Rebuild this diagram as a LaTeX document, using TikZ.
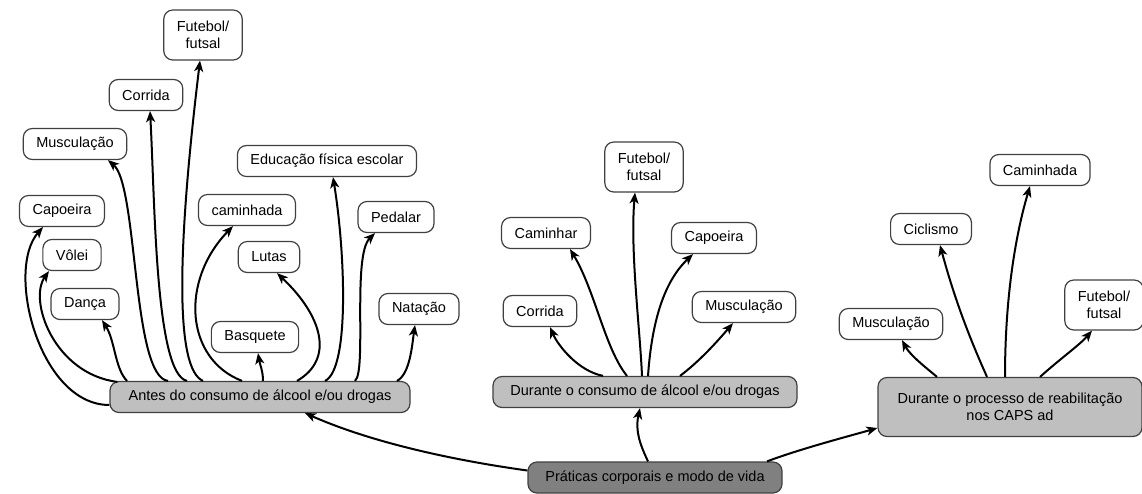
\documentclass[tikz,border=0pt]{standalone}
\usepackage{fontspec}
\setmainfont{Liberation Sans}
\usetikzlibrary{arrows.meta}

\begin{document}
\begin{tikzpicture}[
  x=1pt, y=-1pt,
  caixa/.style={rectangle, rounded corners=9pt, draw=black!75, line width=1.2pt, fill=white, align=center, minimum height=31pt, inner xsep=13pt, inner ysep=2pt, font=\fontsize{14.5pt}{17pt}\selectfont},
  eixo/.style={caixa, fill=gray!50},
  raiz/.style={caixa, fill=gray},
  seta/.style={-{Stealth[length=11pt, width=9pt, inset=3pt]}, line width=2pt}
]
\useasboundingbox (0,0) rectangle (1142,493);

% antes do consumo
\node[eixo, minimum width=300pt] (antes) at (260,397) {Antes do consumo de álcool e/ou drogas};
\node[caixa, minimum height=50pt] (fut1) at (203,35) {Futebol/\\futsal};
\node[caixa] (cor1) at (146,95) {Corrida};
\node[caixa] (mus1) at (75,144) {Musculação};
\node[caixa] (cap1) at (62,211) {Capoeira};
\node[caixa] (vol1) at (72,255) {Vôlei};
\node[caixa] (dan1) at (85,304) {Dança};
\node[caixa] (cam1) at (247,210) {caminhada};
\node[caixa] (lut1) at (269,257) {Lutas};
\node[caixa] (bas1) at (255,337) {Basquete};
\node[caixa] (edu1) at (327,161) {Educação física escolar};
\node[caixa] (ped1) at (396,217) {Pedalar};
\node[caixa] (nat1) at (419,309) {Natação};

% durante o consumo
\node[eixo, minimum width=304pt] (durc) at (645,392) {Durante o consumo de álcool e/ou drogas};
\node[caixa, minimum height=50pt] (fut2) at (644,167) {Futebol/\\futsal};
\node[caixa] (cmr2) at (546,233) {Caminhar};
\node[caixa] (cap2) at (714,238) {Capoeira};
\node[caixa] (cor2) at (540,311) {Corrida};
\node[caixa] (mus2) at (744,307) {Musculação};

% durante a reabilitacao
\node[eixo, minimum width=264pt, minimum height=59pt] (durp) at (1010,407) {Durante o processo de reabilitação\\nos CAPS ad};
\node[caixa] (cmd3) at (1040,170) {Caminhada};
\node[caixa] (cic3) at (931,229) {Ciclismo};
\node[caixa] (mus3) at (891,324) {Musculação};
\node[caixa, minimum height=50pt] (fut3) at (1104,305) {Futebol/\\futsal};

\node[raiz, minimum width=254pt] (prat) at (655,477.5) {Práticas corporais e modo de vida};

% setas da raiz
\draw[seta] ([yshift=7pt]prat.west) .. controls +(-58,-8) and +(75,33) .. ([xshift=45pt]antes.south);
\draw[seta] ([xshift=-7pt]prat.north) .. controls +(-8,-17) and +(-5,22.5) .. ([xshift=-5pt]durc.south);
\draw[seta] ([xshift=112pt]prat.north) .. controls +(33,-12.5) and +(-28,8) .. ([yshift=-21pt]durp.west);

% setas antes
\draw[seta] ([yshift=-8pt]antes.west) .. controls +(-70,0) and +(-38,43) .. ([xshift=-19pt]cap1.south);
\draw[seta] ([xshift=8pt,yshift=-1pt]antes.north west) .. controls +(-63,-8) and +(-21,29.5) .. ([xshift=-23pt]vol1.south);
\draw[seta] ([xshift=-133pt]antes.north) .. controls +(-12,-12) and +(13,20.5) .. ([xshift=17pt]dan1.south);
\draw[seta] ([xshift=-92pt]antes.north) .. controls +(-36,-4) and +(30,25.5) .. ([xshift=33pt]mus1.south);
\draw[seta] ([xshift=-73pt]antes.north) .. controls +(-32,-7) and +(5,89.5) .. ([xshift=4pt]cor1.south);
\draw[seta] ([xshift=-57pt]antes.north) .. controls +(-28,-12) and +(-23,190) .. ([xshift=-3pt]fut1.south);
\draw[seta] ([xshift=-18pt]antes.north) .. controls +(-57,-22) and +(-53,54.5) .. ([xshift=-14pt]cam1.south);
\draw[seta] ([xshift=3pt]antes.north) .. controls +(0,-10) and +(2,12) .. ([xshift=3pt]bas1.south);
\draw[seta] ([xshift=37pt]antes.north) .. controls +(38,-22) and +(45,42.5) .. ([xshift=8pt]lut1.south);
\draw[seta] ([xshift=65pt]antes.north) .. controls +(25,-12) and +(12,73.5) .. ([xshift=6pt]edu1.south);
\draw[seta] ([xshift=95pt]antes.north) .. controls +(12,-10) and +(-23,22.5) .. ([xshift=-21pt]ped1.south);
\draw[seta] ([xshift=137pt]antes.north) .. controls +(13,-7) and +(-3,20.5) .. ([xshift=-4pt]nat1.south);

% setas durante o consumo
\draw[seta] ([xshift=-42pt]durc.north) .. controls +(-25,-5) and +(8,18.5) .. ([xshift=10pt]cor2.south);
\draw[seta] ([xshift=-18pt]durc.north) .. controls +(-22,-27) and +(25,41.5) .. ([xshift=24pt]cmr2.south);
\draw[seta] ([xshift=-3pt]durc.north) .. controls +(-2,-47) and +(-5,58) .. ([xshift=-9pt]fut2.south);
\draw[seta] ([xshift=3pt]durc.north) .. controls +(4,-57) and +(-28,26.5) .. ([xshift=-21pt]cap2.south);
\draw[seta] ([xshift=35pt]durc.north) .. controls +(20,-15) and +(-15,17.5) .. ([xshift=-11pt]mus2.south);

% setas reabilitacao
\draw[seta] ([xshift=-73pt]durp.north) .. controls +(-12,-10) and +(8,15) .. ([xshift=11pt]mus3.south);
\draw[seta] ([xshift=-23pt]durp.north) .. controls +(-17,-38) and +(15,55.5) .. ([xshift=9pt]cic3.south);
\draw[seta] ([xshift=-5pt]durp.north) .. controls +(0,-78) and +(-15,50.5) .. ([xshift=-10pt]cmd3.south);
\draw[seta] ([xshift=30pt]durp.north) .. controls +(20,-18) and +(-12,14) .. ([xshift=-12pt]fut3.south);
\end{tikzpicture}
\end{document}
